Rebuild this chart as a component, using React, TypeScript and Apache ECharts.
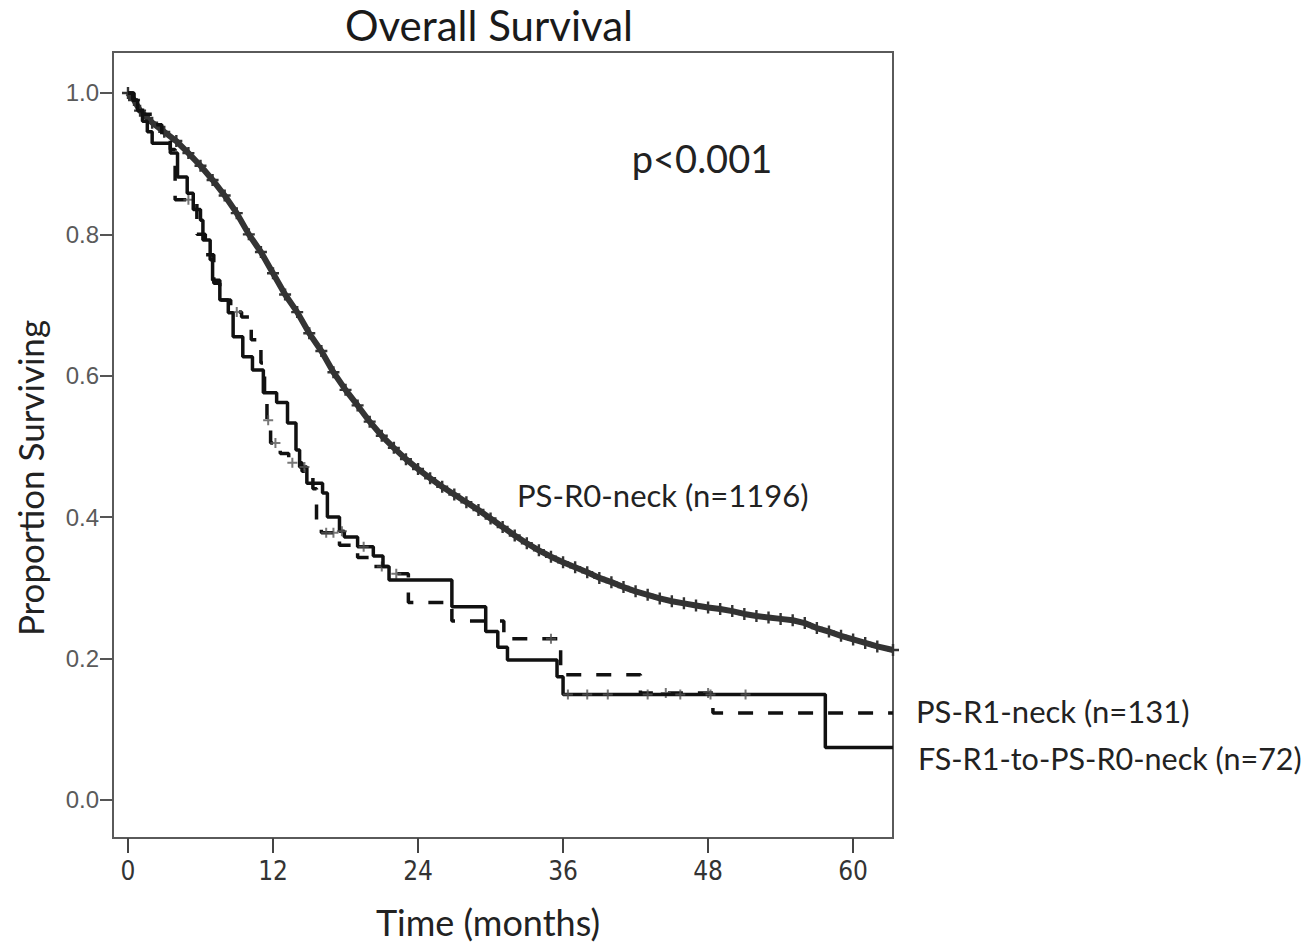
import React, { useEffect, useRef } from "react";
import * as echarts from "echarts";

// ---- data (time in months, proportion surviving) ----
const xTicks = [0, 12, 24, 36, 48, 60];
const yTicks = [0, 0.2, 0.4, 0.6, 0.8, 1.0];

// PS-R0-neck (n=1196) – thick grey curve with dense censor marks
const psR0 = [
  [0, 1.0], [0.5, 0.99], [1, 0.975], [2, 0.958], [3, 0.945], [4, 0.932], [5, 0.915],
  [6, 0.897], [7, 0.877], [8, 0.855], [9, 0.83], [10, 0.8], [11, 0.775], [12, 0.745],
  [13, 0.715], [14, 0.69], [15, 0.66], [16, 0.635], [17, 0.605], [18, 0.58], [19, 0.558],
  [20, 0.535], [21, 0.515], [22, 0.498], [23, 0.482], [24, 0.468], [25, 0.455], [26, 0.443],
  [27, 0.432], [28, 0.421], [29, 0.41], [30, 0.398], [31, 0.386], [32, 0.374], [33, 0.363],
  [34, 0.353], [35, 0.344], [36, 0.336], [37, 0.329], [38, 0.322], [39, 0.314], [40, 0.308],
  [41, 0.301], [42, 0.295], [43, 0.29], [44, 0.285], [45, 0.281], [46, 0.278], [47, 0.275],
  [48, 0.272], [49, 0.27], [50, 0.267], [51, 0.263], [52, 0.26], [53, 0.258], [54, 0.256],
  [55, 0.254], [56, 0.25], [57, 0.243], [58, 0.238], [59, 0.232], [60, 0.227], [61, 0.222],
  [62, 0.217], [63.3, 0.212],
];

// PS-R1-neck (n=131) – dashed step curve
const psR1 = [
  [0, 1.0], [0.5, 0.985], [1.2, 0.97], [2, 0.955], [2.8, 0.935], [3.5, 0.92], [3.9, 0.849],
  [5.7, 0.8], [6.4, 0.771], [7.1, 0.731], [7.6, 0.707], [8.5, 0.69], [9.4, 0.683],
  [10.2, 0.651], [11.0, 0.618], [11.3, 0.57], [11.5, 0.537], [11.8, 0.505], [12.6, 0.49],
  [13.3, 0.477], [14.4, 0.465], [15.3, 0.44], [15.6, 0.386], [16.0, 0.378], [17.5, 0.36],
  [19.0, 0.343], [20.2, 0.33], [21.5, 0.32], [23.2, 0.279], [26.8, 0.253], [31.1, 0.228],
  [35.8, 0.177], [42.4, 0.151], [48.4, 0.123], [63.3, 0.123],
];
const psR1Censored = [
  [5.0, 0.849], [9.0, 0.69], [11.6, 0.537], [12.2, 0.505], [13.6, 0.477], [16.4, 0.378],
  [17.0, 0.378], [21.0, 0.33], [22.2, 0.32], [35.0, 0.228], [44.5, 0.151], [48.0, 0.151],
];

// FS-R1-to-PS-R0-neck (n=72) – solid step curve
const fsR1 = [
  [0, 1.0], [0.4, 0.99], [0.8, 0.975], [1.2, 0.96], [1.6, 0.945], [2.0, 0.929], [3.5, 0.915],
  [4.1, 0.881], [4.9, 0.858], [5.4, 0.835], [6.0, 0.82], [6.2, 0.792], [6.8, 0.764],
  [7.0, 0.735], [7.6, 0.707], [8.3, 0.689], [8.7, 0.655], [9.5, 0.627], [10.3, 0.608],
  [11.2, 0.576], [12.3, 0.562], [13.2, 0.533], [13.9, 0.495], [14.2, 0.471], [14.8, 0.448],
  [16.1, 0.434], [16.5, 0.4], [17.5, 0.38], [17.9, 0.372], [19.0, 0.358], [20.3, 0.345],
  [21.1, 0.33], [21.6, 0.311], [26.8, 0.273], [29.6, 0.238], [30.6, 0.216], [31.4, 0.198],
  [35.5, 0.174], [36.0, 0.149], [57.7, 0.074], [63.3, 0.074],
];
const fsR1Censored = [
  [14.6, 0.471], [17.7, 0.38], [19.5, 0.358], [36.4, 0.149], [38.0, 0.149], [39.7, 0.149],
  [43.0, 0.149], [45.7, 0.149], [48.2, 0.149], [51.1, 0.149],
];

const titleText = "Overall Survival";
const xName = "Time (months)";
const yName = "Proportion Surviving";
const pText = "p<0.001";
const labelR0 = "PS-R0-neck (n=1196)";
const labelR1 = "PS-R1-neck (n=131)";
const labelFS = "FS-R1-to-PS-R0-neck (n=72)";

const PLUS = "path://M4,0H6V4H10V6H6V10H4V6H0V4H4Z";
const FONT = "Lato, 'Open Sans', sans-serif";

export default function App() {
  const ref = useRef<HTMLDivElement>(null);
  useEffect(() => {
    document.body.style.margin = "0";
    const chart = echarts.init(ref.current!, null, { renderer: "svg" });
    const option = {
      animation: false,
      backgroundColor: "#ffffff",
      grid: {
        left: 113, top: 52, width: 780, height: 786,
        show: true, borderColor: "#5a5a5a", borderWidth: 2,
      },
      xAxis: {
        type: "value", min: -1.24, max: 63.3,
        axisLine: { show: true, onZero: false, lineStyle: { color: "#5a5a5a", width: 2 } },
        axisTick: { show: true, customValues: xTicks, length: 15, lineStyle: { color: "#444", width: 2 } },
        axisLabel: {
          customValues: xTicks, margin: 20, fontSize: 26, color: "#333",
          fontFamily: "'Liberation Sans Narrow', 'DejaVu Sans Condensed', sans-serif",
        },
        splitLine: { show: false },
      },
      yAxis: {
        type: "value", min: -0.054, max: 1.058,
        axisLine: { show: true, onZero: false, lineStyle: { color: "#5a5a5a", width: 2 } },
        axisTick: { show: true, customValues: yTicks, length: 13, lineStyle: { color: "#555", width: 2 } },
        axisLabel: {
          customValues: yTicks, margin: 14, fontSize: 24, color: "#5a5a5a",
          fontFamily: "'Liberation Sans', Arial, sans-serif",
          formatter: (v: number) => v.toFixed(1),
        },
        splitLine: { show: false },
      },
      series: [
        {
          type: "line", name: labelR0, data: psR0, silent: true,
          lineStyle: { color: "#333333", width: 6 },
          symbol: PLUS, symbolSize: 12, showSymbol: true, showAllSymbol: true,
          itemStyle: { color: "#333333" }, z: 3,
        },
        {
          type: "line", name: labelR1, data: psR1, step: "end", silent: true,
          lineStyle: { color: "#111", width: 3.5, type: [15, 15] },
          symbol: "none", z: 4,
        },
        {
          type: "scatter", data: psR1Censored, silent: true,
          symbol: PLUS, symbolSize: 10, itemStyle: { color: "#555" }, z: 4,
        },
        {
          type: "line", name: labelFS, data: fsR1, step: "end", silent: true,
          lineStyle: { color: "#111", width: 3.5 },
          symbol: "none", z: 5,
        },
        {
          type: "scatter", data: fsR1Censored, silent: true,
          symbol: PLUS, symbolSize: 10, itemStyle: { color: "#555" }, z: 5,
        },
      ],
      graphic: [
        { type: "text", x: 489, y: 25, style: { text: titleText, align: "center", verticalAlign: "middle", font: `42px ${FONT}`, fill: "#1a1a1a" } },
        { type: "text", x: 488, y: 922, style: { text: xName, align: "center", verticalAlign: "middle", font: `36px ${FONT}`, fill: "#222" } },
        { type: "text", x: 30, y: 478, rotation: Math.PI / 2, style: { text: yName, align: "center", verticalAlign: "middle", font: `35px ${FONT}`, fill: "#222" } },
        { type: "text", x: 702, y: 158, style: { text: pText, align: "center", verticalAlign: "middle", font: `38px ${FONT}`, fill: "#222" } },
        { type: "text", x: 517, y: 495, style: { text: labelR0, align: "left", verticalAlign: "middle", font: `31px ${FONT}`, fill: "#222" } },
        { type: "text", x: 916, y: 711, style: { text: labelR1, align: "left", verticalAlign: "middle", font: `31px ${FONT}`, fill: "#222" } },
        { type: "text", x: 918, y: 758, style: { text: labelFS, align: "left", verticalAlign: "middle", font: `30.5px ${FONT}`, fill: "#222" } },
      ],
    };
    chart.setOption(option as any);
    return () => chart.dispose();
  }, []);
  return <div ref={ref} style={{ width: 1310, height: 944 }} />;
}
